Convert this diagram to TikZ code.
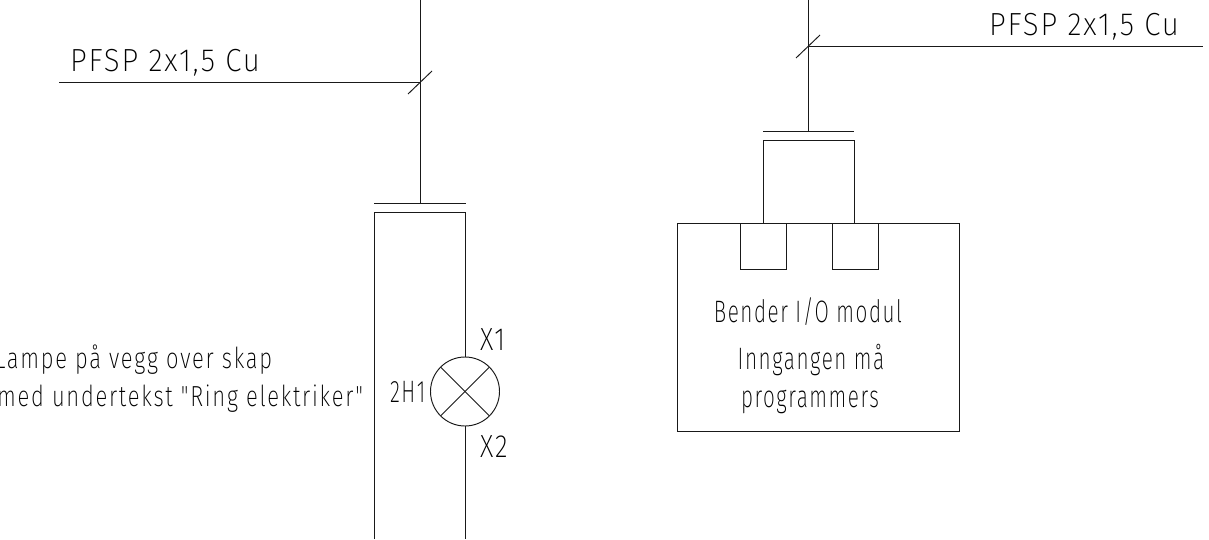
\documentclass[tikz,border=0pt]{standalone}
\usepackage{fontspec}
\setmainfont[FakeStretch=0.67,LetterSpace=5]{Fira Sans ExtraLight}
\newfontfamily\cablefont[FakeStretch=0.92,LetterSpace=6]{Fira Sans ExtraLight}
\newfontfamily\notefont[FakeStretch=0.76,LetterSpace=6]{Fira Sans ExtraLight}
\newfontfamily\pinfont[FakeStretch=0.82,LetterSpace=6]{Fira Sans ExtraLight}
\tikzset{
  wire/.style={draw=black!90,line width=0.95pt},
  lbl/.style={inner sep=0pt,outer sep=0pt,font=\fontsize{31}{36}\selectfont,text=black},
  cablelbl/.style={inner sep=0pt,outer sep=0pt,font=\cablefont\fontsize{32}{36}\selectfont,text=black,anchor=base west},
  pinlbl/.style={inner sep=0pt,outer sep=0pt,font=\pinfont\fontsize{32}{36}\selectfont,text=black,anchor=base west},
  notelbl/.style={inner sep=0pt,outer sep=0pt,font=\notefont\fontsize{29}{34}\selectfont,text=black,anchor=base east},
  blk/.style={draw=black!90,line width=0.95pt,fill=none,inner sep=0pt,outer sep=0pt,rectangle}
}
\begin{document}
\begin{tikzpicture}[x=1pt,y=-1pt]
\useasboundingbox (0,0) rectangle (1209,539);
% left part
\coordinate (ltop) at (420,0);
\coordinate (lbar) at (420,203);
\coordinate (lbarw) at (374,203);
\coordinate (lbare) at (466,203);
\coordinate (lj) at (420,82);
\coordinate (lfree) at (59,82);
\coordinate (ls1) at (408,94);
\coordinate (ls2) at (432,71);
\coordinate (lbw) at (374,539);
\coordinate (lnw) at (374,212);
\coordinate (lne) at (465,212);
\coordinate (lbe) at (465,539);
\node[circle,draw=black!90,line width=0.95pt,minimum size=69pt,inner sep=0pt,outer sep=0pt] (lamp) at (465,391.5) {};
\draw[wire] (ltop) -- (lbar);
\draw[wire] (lbarw) -- (lbare);
\draw[wire] (lfree) -- (lj);
\draw[wire] (ls1) -- (ls2);
\draw[wire] (lbw) -- (lnw) -- (lne) -- (lamp.north);
\draw[wire] (lamp.south) -- (lbe);
\draw[wire] (lamp.north west) -- (lamp.south east);
\draw[wire] (lamp.north east) -- (lamp.south west);
\node[cablelbl] (pfspl) at (70,71) {PFSP 2x1,5 Cu};
\node[notelbl] (lampa) at (272,368) {Lampe på vegg over skap};
\node[notelbl] (lampb) at (363,406) {med undertekst "Ring elektriker"};
\node[lbl,anchor=base west] (hone) at (390,402) {2H1};
\node[pinlbl] (xone) at (480,350) {X1};
\node[pinlbl] (xtwo) at (480,457) {X2};
% right part
\coordinate (rtop) at (808,0);
\coordinate (rbar) at (808,131);
\coordinate (rbarw) at (763,131);
\coordinate (rbare) at (854,131);
\coordinate (rj) at (808,46);
\coordinate (rfree) at (1203,46);
\coordinate (rs1) at (796,58);
\coordinate (rs2) at (820,35);
\draw[wire] (rtop) -- (rbar);
\draw[wire] (rbarw) -- (rbare);
\draw[wire] (rj) -- (rfree);
\draw[wire] (rs1) -- (rs2);
\node[blk,minimum width=282pt,minimum height=208pt] (modul) at (818.5,327) {};
\node[blk,minimum width=46pt,minimum height=46pt] (ina) at (763,246) {};
\node[blk,minimum width=46pt,minimum height=46pt] (inb) at (855.5,246) {};
\coordinate (ca) at (763,223);
\coordinate (cb) at (854,223);
\coordinate (ct1) at (763,140);
\coordinate (ct2) at (854,140);
\draw[wire] (ca) -- (ct1) -- (ct2) -- (cb);
\node[cablelbl] (pfspr) at (989,35) {PFSP 2x1,5 Cu};
\node[lbl,anchor=base] (bender) at (808,322) {Bender I/O modul};
\node[lbl,anchor=base] (inng) at (811,369) {Inngangen må};
\node[lbl,anchor=base] (prog) at (810,407) {programmers};
\end{tikzpicture}
\end{document}
